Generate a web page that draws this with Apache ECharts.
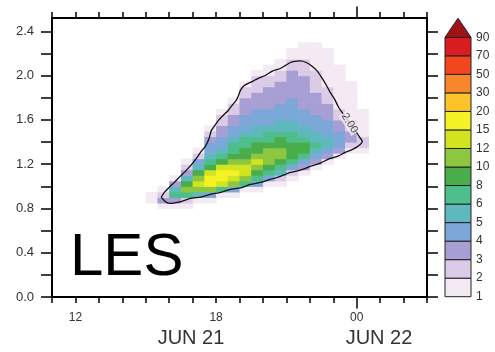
<!DOCTYPE html>
<html>
<head>
<meta charset="utf-8">
<script src="https://cdn.jsdelivr.net/npm/echarts@6/dist/echarts.min.js"></script>
<style>
html,body{margin:0;padding:0;background:#fff;}
#chart{width:495px;height:352px;}
</style>
</head>
<body>
<div id="chart"></div>
<script>
// ---- data ----
// time (hours since JUN 21 00:00) of each grid column centre
var times = [15.25,15.75,16.25,16.75,17.25,17.75,18.25,18.75,19.25,19.75,20.25,20.75,21.25,21.75,22.25,22.75,23.25,23.75,24.25];
// height (km) of each grid row centre
var heights = [0.725,0.775,0.825,0.875,0.925,0.975,1.025,1.075,1.125,1.175,1.225,1.275,1.325,1.375,1.425,1.475,1.525,1.575,1.625,1.675,1.725,1.775,1.825,1.875,1.925,1.975,2.025,2.075,2.125,2.175,2.225,2.275];
// field values, one array per column (bottom row first)
var col00 = [0,0,0,1.5,1.5, 0,0,0,0,0, 0,0,0,0,0, 0,0,0,0,0, 0,0,0,0,0, 0,0,0,0,0, 0,0];
var col01 = [0,0,1.5,3.5,2.5, 1.5,0,0,0,0, 0,0,0,0,0, 0,0,0,0,0, 0,0,0,0,0, 0,0,0,0,0, 0,0];
var col02 = [0,0,1.5,3.5,7, 5.5,3.5,1.5,0,0, 0,0,0,0,0, 0,0,0,0,0, 0,0,0,0,0, 0,0,0,0,0, 0,0];
var col03 = [0,0,1.5,2.5,7, 11,9,5.5,3.5,2.5, 1.5,0,0,0,0, 0,0,0,0,0, 0,0,0,0,0, 0,0,0,0,0, 0,0];
var col04 = [0,0,0,1.5,5.5, 11,13.5,11,9,5.5, 4.5,2.5,1.5,0,0, 0,0,0,0,0, 0,0,0,0,0, 0,0,0,0,0, 0,0];
var col05 = [0,0,0,1.5,4.5, 11,17.5,17.5,13.5,9, 7,5.5,4.5,4.5,3.5, 2.5,1.5,0,0,0, 0,0,0,0,0, 0,0,0,0,0, 0,0];
var col06 = [0,0,0,0,1.5, 7,13.5,17.5,17.5,13.5, 9,7,5.5,4.5,4.5, 3.5,3.5,2.5,2.5,1.5, 0,0,0,0,0, 0,0,0,0,0, 0,0];
var col07 = [0,0,0,0,1.5, 4.5,11,13.5,17.5,13.5, 11,9,7,7,5.5, 4.5,4.5,3.5,3.5,2.5, 2.5,1.5,0,0,0, 0,0,0,0,0, 0,0];
var col08 = [0,0,0,0,0, 1.5,7,11,13.5,13.5, 11,9,9,7,7, 5.5,4.5,4.5,4.5,3.5, 3.5,3.5,2.5,2.5,1.5, 0,0,0,0,0, 0,0];
var col09 = [0,0,0,0,0, 1.5,4.5,7,9,11, 13.5,11,9,9,7, 5.5,5.5,4.5,4.5,4.5, 3.5,3.5,3.5,2.5,2.5, 2.5,1.5,0,0,0, 0,0];
var col10 = [0,0,0,0,0, 0,1.5,4.5,7,9, 11,11,11,9,7, 7,5.5,4.5,4.5,4.5, 3.5,3.5,3.5,3.5,2.5, 2.5,1.5,1.5,0,0, 0,0];
var col11 = [0,0,0,0,0, 0,1.5,2.5,5.5,7, 9,11,11,9,9, 7,5.5,5.5,4.5,4.5, 4.5,3.5,3.5,3.5,3.5, 2.5,2.5,1.5,1.5,0, 0,0];
var col12 = [0,0,0,0,0, 0,0,1.5,2.5,4.5, 7,9,9,9,7, 7,5.5,5.5,4.5,4.5, 4.5,4.5,3.5,3.5,3.5, 3.5,3.5,2.5,2.5,1.5, 1.5,0];
var col13 = [0,0,0,0,0, 0,0,0,1.5,3.5, 4.5,7,9,9,7, 5.5,5.5,4.5,4.5,4.5, 3.5,3.5,3.5,3.5,3.5, 3.5,2.5,2.5,2.5,1.5, 1.5,1.5];
var col14 = [0,0,0,0,0, 0,0,0,0,1.5, 3.5,4.5,5.5,7,5.5, 5.5,4.5,4.5,4.5,3.5, 3.5,3.5,3.5,2.5,2.5, 2.5,2.5,1.5,1.5,1.5, 1.5,1.5];
var col15 = [0,0,0,0,0, 0,0,0,0,0, 1.5,3.5,4.5,5.5,5.5, 4.5,4.5,4.5,3.5,3.5, 3.5,2.5,2.5,2.5,1.5, 1.5,1.5,1.5,1.5,1.5, 1.5,0];
var col16 = [0,0,0,0,0, 0,0,0,0,0, 0,1.5,3.5,4.5,4.5, 4.5,3.5,3.5,2.5,2.5, 1.5,1.5,1.5,1.5,1.5, 1.5,1.5,1.5,0,0, 0,0];
var col17 = [0,0,0,0,0, 0,0,0,0,0, 0,0,1.5,2.5,3.5, 3.5,2.5,2.5,1.5,1.5, 1.5,1.5,1.5,1.5,1.5, 0,0,0,0,0, 0,0];
var col18 = [0,0,0,0,0, 0,0,0,0,0, 0,0,1.5,2.5,2.5, 1.5,1.5,1.5,1.5,1.5, 0,0,0,0,0, 0,0,0,0,0, 0,0];
var columns = [col00,col01,col02,col03,col04,col05,col06,col07,col08,col09,col10,col11,col12,col13,col14,col15,col16,col17,col18];

// 2.00 contour (time h, height km)
var contourT = [15.66,15.88,16.05,16.50,16.90,17.35,17.75,18.20,18.61,19.05,19.46,19.90,20.31,20.75,21.17,21.60,22.02,22.45,22.87,23.20,23.51,23.85,24.15,24.24,24.10,23.94,23.75,23.56,23.40,23.21,23.05,22.87,22.70,22.53,22.32,22.11,21.85,21.59,21.35,21.17,20.95,20.74,20.40,20.10,19.80,19.46,19.20,19.04,18.95,18.86,18.70,18.52,18.30,18.10,17.95,17.80,17.70,17.54,17.35,17.16,16.95,16.73,16.45,16.22,16.00,15.79,15.66];
var contourH = [0.900,0.855,0.846,0.862,0.891,0.903,0.927,0.945,0.972,0.985,1.017,1.035,1.062,1.090,1.125,1.145,1.180,1.210,1.252,1.272,1.306,1.335,1.378,1.406,1.450,1.504,1.560,1.613,1.660,1.721,1.790,1.848,1.915,1.974,2.040,2.082,2.118,2.132,2.128,2.118,2.090,2.064,2.040,2.001,1.975,1.938,1.910,1.866,1.815,1.775,1.735,1.685,1.640,1.595,1.550,1.505,1.430,1.360,1.310,1.252,1.195,1.144,1.085,1.035,0.990,0.945,0.900];
var contourLabel = '2.00';
var contourLabelAt = [23.7, 1.57];

// colour levels
var levels = [1,2,3,4,5,6,8,10,12,15,20,30,50,70,90];
var levelColors = ['#f4eaf4','#dccbe6','#a79fd3','#7ca7d9','#5fb8be','#4ebf8c','#48ad4a','#8dc63f','#d2e41f','#f2f224','#fcc428','#f8862a','#f2461f','#d81c20','#a01218'];

// axes
var xTickValues = [11,12,13,14,15,16,17,18,19,20,21,22,23,24,25,26,27];
var xLabelValues = [12,18,24];
var xLabelText = {12:'12',18:'18',24:'00'};
var xMajorTick = [24];
var dateLabels = ['JUN 21','JUN 22'];
var yTickValues = [0,0.2,0.4,0.6,0.8,1.0,1.2,1.4,1.6,1.8,2.0,2.2,2.4];
var yLabelValues = [0,0.4,0.8,1.2,1.6,2.0,2.4];
var panelTitle = 'LES';

// ---- build ----
var cellData = [];
for (var c = 0; c < columns.length; c++) {
  for (var r = 0; r < heights.length; r++) {
    if (columns[c][r] > 0) cellData.push([times[c], heights[r], columns[c][r]]);
  }
}
var dt = times[1] - times[0];
var dh = heights[1] - heights[0];
var contourData = contourT.map(function (t, i) { return [t, contourH[i]]; });

var pieces = [];
for (var i = 0; i < levels.length; i++) {
  if (i < levels.length - 1) pieces.push({gte: levels[i], lt: levels[i + 1], color: levelColors[i]});
  else pieces.push({gte: levels[i], color: levelColors[i]});
}
var barData = levels.map(function (v, i) { return [i, levelColors[i]]; });

var FONT = 'Liberation Sans, Arial, Helvetica, sans-serif';
var chart = echarts.init(document.getElementById('chart'), null, {renderer: 'canvas'});

var baseX = {
  type: 'value', min: 11, max: 27, gridIndex: 0,
  splitLine: {show: false},
  axisLine: {show: true, onZero: false, lineStyle: {color: '#000', width: 2}},
  axisTick: {show: true, inside: false, length: 6, customValues: xTickValues, lineStyle: {color: '#000', width: 1.5}},
  axisLabel: {show: false}
};
var baseY = {
  type: 'value', min: 0, max: 2.52, gridIndex: 0,
  splitLine: {show: false},
  axisLine: {show: true, onZero: false, lineStyle: {color: '#000', width: 2}},
  axisTick: {show: true, inside: false, length: 11, customValues: yTickValues, lineStyle: {color: '#000', width: 1.5}},
  axisLabel: {show: false}
};
function merge(a, b) { return echarts.util.merge(echarts.util.clone(a), b, true); }

var option = {
  animation: false,
  backgroundColor: '#fff',
  grid: [
    {left: 52, top: 18, right: 68, bottom: 55, containLabel: false},
    {left: 445, top: 37.3, width: 26, height: 259.4, containLabel: false}
  ],
  xAxis: [
    merge(baseX, {position: 'bottom', axisLabel: {show: true, customValues: xLabelValues, margin: 15, fontSize: 12, fontFamily: FONT, color: '#333',
      formatter: function (v) { return xLabelText[v]; }}}),
    merge(baseX, {position: 'top'}),
    merge(baseX, {position: 'bottom', axisLine: {show: false}, axisTick: {length: 11.5, customValues: xMajorTick}}),
    merge(baseX, {position: 'top', axisLine: {show: false}, axisTick: {length: 11.5, customValues: xMajorTick}}),
    {type: 'value', gridIndex: 1, min: 0, max: 1, show: false}
  ],
  yAxis: [
    merge(baseY, {position: 'left', axisLabel: {show: true, customValues: yLabelValues, margin: 18, fontSize: 13, fontFamily: FONT, color: '#333',
      formatter: function (v) { return v.toFixed(1); }}}),
    merge(baseY, {position: 'right'}),
    {type: 'value', gridIndex: 1, min: 0, max: levels.length - 1, position: 'right',
      splitLine: {show: false}, axisLine: {show: false}, axisTick: {show: false},
      axisLabel: {show: true, customValues: levels.map(function (v, i) { return i; }), margin: 5, fontSize: 12, fontFamily: FONT, color: '#333',
        formatter: function (v) { return String(levels[Math.round(v)]); }}}
  ],
  visualMap: [{
    type: 'piecewise', show: false, seriesIndex: 0, dimension: 2, pieces: pieces
  }],
  series: [
    {
      type: 'custom', xAxisIndex: 0, yAxisIndex: 0, clip: true, z: 1,
      data: cellData,
      encode: {x: 0, y: 1},
      renderItem: function (params, api) {
        var t = api.value(0), h = api.value(1);
        var p0 = api.coord([t - dt / 2, h + dh / 2]);
        var p1 = api.coord([t + dt / 2, h - dh / 2]);
        return {type: 'rect', shape: {x: p0[0], y: p0[1], width: p1[0] - p0[0] + 0.6, height: p1[1] - p0[1] + 0.6},
          style: {fill: api.visual('color')}};
      }
    },
    {
      type: 'line', xAxisIndex: 0, yAxisIndex: 0, z: 3,
      data: contourData, symbol: 'none', smooth: 0.2,
      lineStyle: {color: '#111', width: 1.3}
    },
    {
      type: 'scatter', xAxisIndex: 0, yAxisIndex: 0, z: 4,
      data: [contourLabelAt], symbolSize: 0,
      label: {show: true, position: 'inside', formatter: contourLabel, rotate: -57, fontSize: 11, fontFamily: FONT, color: '#222',
        backgroundColor: '#f3ecf4', padding: [0, 1]}
    },
    {
      type: 'custom', xAxisIndex: 4, yAxisIndex: 2, clip: false, z: 2,
      data: barData,
      renderItem: function (params, api) {
        var i = api.value(0);
        var col = levelColors[i];
        if (i < levels.length - 1) {
          var a = api.coord([0, i + 1]);
          var b = api.coord([1, i]);
          return {type: 'rect', shape: {x: a[0], y: a[1], width: b[0] - a[0], height: b[1] - a[1]},
            style: {fill: col, stroke: '#222', lineWidth: 1}};
        }
        var l = api.coord([0, i]), rr = api.coord([1, i]), top = api.coord([0.5, i + 1.03]);
        return {type: 'polygon', shape: {points: [l, rr, top]}, style: {fill: col, stroke: '#222', lineWidth: 1}};
      }
    }
  ],
  graphic: [
    {type: 'text', left: 70, top: 228, style: {text: panelTitle, font: '60px ' + FONT, fill: '#000'}},
    {type: 'text', x: 191, y: 338, style: {text: dateLabels[0], font: '20px ' + FONT, fill: '#333', align: 'center', verticalAlign: 'middle'}},
    {type: 'text', x: 379, y: 338, style: {text: dateLabels[1], font: '20px ' + FONT, fill: '#333', align: 'center', verticalAlign: 'middle'}}
  ]
};
chart.setOption(option);
</script>
</body>
</html>
